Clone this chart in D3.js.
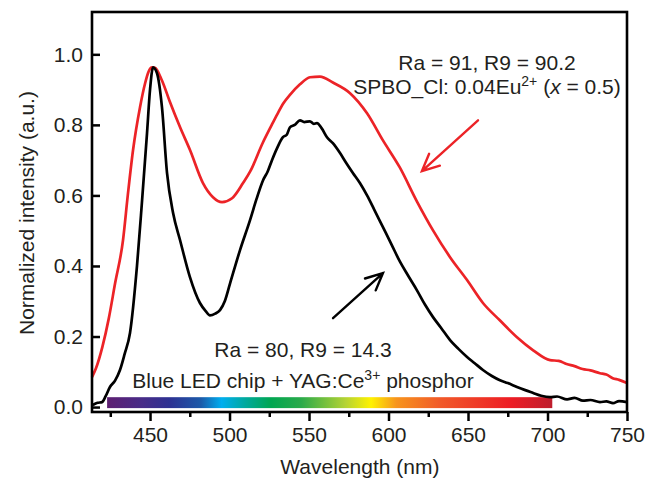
<!DOCTYPE html>
<html>
<head>
<meta charset="utf-8">
<script src="https://cdn.jsdelivr.net/npm/d3@7"></script>
<style>
  body { margin: 0; background: #fff; }
  text { font-family: "Liberation Sans", Arial, sans-serif; fill: #231f20; }
</style>
</head>
<body>
<div id="chart"></div>
<script>
// Spectra (wavelength in nm, normalized intensity)
const redWl = [413.5, 416, 420, 424, 428, 433, 436, 439.3, 443.7, 446.9, 449, 451.3, 453.1, 457.5, 462.6, 468.9, 475.2, 483.3, 489.6, 495.3, 501.6, 508.5, 513, 521, 526, 530, 534, 538, 544.3, 550.6, 556.9, 565, 575.8, 586.5, 596.5, 607, 618, 628, 638.7, 649.4, 659.4, 670, 680.8, 691, 701.6, 707, 712, 717, 722, 727, 733, 737, 741, 745, 750];
const redVal = [0.085, 0.11, 0.17, 0.25, 0.35, 0.473, 0.6, 0.728, 0.85, 0.918, 0.95, 0.963, 0.962, 0.926, 0.864, 0.793, 0.728, 0.635, 0.595, 0.581, 0.592, 0.635, 0.668, 0.75, 0.795, 0.83, 0.862, 0.885, 0.915, 0.935, 0.937, 0.92, 0.89, 0.833, 0.756, 0.68, 0.582, 0.501, 0.425, 0.36, 0.295, 0.246, 0.198, 0.161, 0.133, 0.131, 0.122, 0.116, 0.108, 0.104, 0.096, 0.092, 0.082, 0.077, 0.068];

const blackWl = [414, 417, 419.8, 422, 424.8, 428, 431.1, 434, 437.4, 441.8, 445, 448.1, 450, 451.9, 454.4, 457.5, 460.7, 464.5, 468.9, 475, 481.4, 485, 487.7, 491, 494, 497, 500.3, 506.6, 512.9, 517, 521.1, 524, 526.7, 530, 533.6, 536, 538, 541, 544.3, 547, 550.6, 553, 555, 558, 561.3, 565, 569.5, 573, 577.7, 582, 586.5, 591, 596.5, 602, 607.2, 612, 617.9, 623, 628, 633, 638.7, 644, 649.4, 654, 659.4, 665, 670.1, 675, 680.8, 686, 691, 696, 701.6, 706, 712.3, 717, 722.3, 727, 733, 737, 741.2, 745, 750];
const blackVal = [0.006, 0.012, 0.014, 0.03, 0.057, 0.075, 0.105, 0.15, 0.21, 0.4, 0.586, 0.776, 0.9, 0.963, 0.946, 0.85, 0.663, 0.55, 0.473, 0.37, 0.295, 0.272, 0.26, 0.265, 0.275, 0.3, 0.35, 0.445, 0.53, 0.59, 0.643, 0.668, 0.7, 0.735, 0.765, 0.772, 0.793, 0.8, 0.813, 0.808, 0.81, 0.803, 0.805, 0.79, 0.765, 0.748, 0.72, 0.695, 0.663, 0.635, 0.6, 0.56, 0.51, 0.46, 0.412, 0.375, 0.331, 0.29, 0.255, 0.225, 0.19, 0.165, 0.142, 0.125, 0.105, 0.088, 0.076, 0.068, 0.057, 0.048, 0.04, 0.032, 0.028, 0.03, 0.022, 0.026, 0.018, 0.02, 0.014, 0.016, 0.011, 0.017, 0.014];

// visible-spectrum strip under the curves
const stripWl = [423, 703];
const stripVal = [-0.003, 0.028];
const stripStops = [
  [423, "#5e1f72"], [445, "#482c88"], [462, "#2e3192"], [482, "#1c5aa9"],
  [495, "#00aeef"], [510, "#00a99d"], [526, "#00a651"], [545, "#2aaa4a"],
  [573, "#b5d334"], [589, "#fff200"], [605, "#f7941d"], [632, "#f15a29"],
  [677, "#ed1c24"], [703, "#be1e2d"]
];

const xTicks = [450, 500, 550, 600, 650, 700, 750];
const xMinor = [425, 475, 525, 575, 625, 675, 725];
const yTicks = [0, 0.2, 0.4, 0.6, 0.8, 1.0];

// arrows: [tail, tip] in data units
const redArrow = [[656.3, 0.813], [621, 0.669]];
const blackArrow = [[565.1, 0.252], [596.5, 0.38]];

const margin = { top: 12, right: 18, bottom: 69, left: 92 };
const width = 645 - margin.left - margin.right;
const height = 481 - margin.top - margin.bottom;

const svg = d3.select("#chart")
    .append("svg")
    .attr("width", 645)
    .attr("height", 481);

const g = svg.append("g")
    .attr("transform", `translate(${margin.left},${margin.top})`);

const x = d3.scaleLinear().domain([413.5, 750]).range([0, width]);
const y = d3.scaleLinear().domain([-0.014, 1.12]).range([height, 0]);

// gradient for the strip
const grad = svg.append("defs").append("linearGradient")
    .attr("id", "spectrum")
    .attr("x1", "0%").attr("x2", "100%");
grad.selectAll("stop")
    .data(stripStops)
    .enter()
    .append("stop")
    .attr("offset", d => (d[0] - stripWl[0]) / (stripWl[1] - stripWl[0]))
    .attr("stop-color", d => d[1]);

g.append("rect")
    .attr("x", x(stripWl[0]))
    .attr("y", y(stripVal[1]))
    .attr("width", x(stripWl[1]) - x(stripWl[0]))
    .attr("height", y(stripVal[0]) - y(stripVal[1]))
    .attr("fill", "url(#spectrum)");

// curves
const line = d3.line()
    .x(d => x(d[0]))
    .y(d => y(d[1]))
    .curve(d3.curveMonotoneX);

g.append("path")
    .datum(redWl.map((w, i) => [w, redVal[i]]))
    .attr("d", line)
    .attr("fill", "none")
    .attr("stroke", "#ec2327")
    .attr("stroke-width", 2.7)
    .attr("stroke-linejoin", "round");

g.append("path")
    .datum(blackWl.map((w, i) => [w, blackVal[i]]))
    .attr("d", line)
    .attr("fill", "none")
    .attr("stroke", "#000")
    .attr("stroke-width", 2.7)
    .attr("stroke-linejoin", "round");

// axes
g.append("g")
    .attr("transform", `translate(0,${height})`)
    .call(d3.axisBottom(x).tickValues(xTicks).tickSize(9).tickPadding(6).tickFormat(d3.format("d")));

g.append("g")
    .attr("transform", `translate(0,${height})`)
    .call(d3.axisBottom(x).tickValues(xMinor).tickSize(5).tickFormat(""));

g.append("g")
    .call(d3.axisLeft(y).tickValues(yTicks).tickSize(-8).tickPadding(9).tickFormat(d3.format(".1f")));

g.selectAll(".tick line").attr("stroke", "#000").attr("stroke-width", 2.5);
g.selectAll(".domain").remove();
g.selectAll(".tick text")
    .attr("font-size", 21)
    .style("font-family", "'Liberation Sans', Arial, sans-serif")
    .attr("fill", "#231f20");

// frame
g.append("rect")
    .attr("width", width)
    .attr("height", height)
    .attr("fill", "none")
    .attr("stroke", "#000")
    .attr("stroke-width", 2.6);

// axis titles
svg.append("text")
    .attr("x", margin.left + x(582))
    .attr("y", 474)
    .attr("text-anchor", "middle")
    .attr("font-size", 21)
    .text("Wavelength (nm)");

svg.append("text")
    .attr("transform", `translate(34,${margin.top + y(0.55)}) rotate(-90)`)
    .attr("text-anchor", "middle")
    .attr("font-size", 21)
    .text("Normalized intensity (a.u.)");

// arrows
function drawArrow(pts, color) {
    const [t0, t1] = pts.map(p => [x(p[0]), y(p[1])]);
    const dx = t1[0] - t0[0], dy = t1[1] - t0[1];
    const len = Math.hypot(dx, dy);
    const ux = dx / len, uy = dy / len;
    const back = 17, spread = 8;
    const bx = t1[0] - ux * back, by = t1[1] - uy * back;
    g.append("path")
        .attr("d", `M${t0[0]},${t0[1]}L${t1[0]},${t1[1]}` +
            `M${bx - uy * spread},${by + ux * spread}L${t1[0]},${t1[1]}L${bx + uy * spread},${by - ux * spread}`)
        .attr("fill", "none")
        .attr("stroke", color)
        .attr("stroke-width", 2.4)
        .attr("stroke-linecap", "round")
        .attr("stroke-linejoin", "miter");
}
drawArrow(redArrow, "#ec2327");
drawArrow(blackArrow, "#000");

// annotations
const fs = 21;
svg.append("text")
    .attr("x", 487).attr("y", 70)
    .attr("text-anchor", "middle")
    .attr("font-size", fs)
    .text("Ra = 91, R9 = 90.2");

const t2 = svg.append("text")
    .attr("x", 487).attr("y", 94)
    .attr("text-anchor", "middle")
    .attr("font-size", fs);
t2.append("tspan").text("SPBO_Cl: 0.04Eu");
t2.append("tspan").attr("font-size", 14).attr("dy", -8).text("2+");
t2.append("tspan").attr("dy", 8).text(" (");
t2.append("tspan").attr("font-style", "italic").text("x");
t2.append("tspan").text(" = 0.5)");

svg.append("text")
    .attr("x", 303).attr("y", 357)
    .attr("text-anchor", "middle")
    .attr("font-size", fs)
    .text("Ra = 80, R9 = 14.3");

const t4 = svg.append("text")
    .attr("x", 303).attr("y", 388)
    .attr("text-anchor", "middle")
    .attr("font-size", fs);
t4.append("tspan").text("Blue LED chip + YAG:Ce");
t4.append("tspan").attr("font-size", 14).attr("dy", -8).text("3+");
t4.append("tspan").attr("dy", 8).text(" phosphor");
</script>
</body>
</html>
